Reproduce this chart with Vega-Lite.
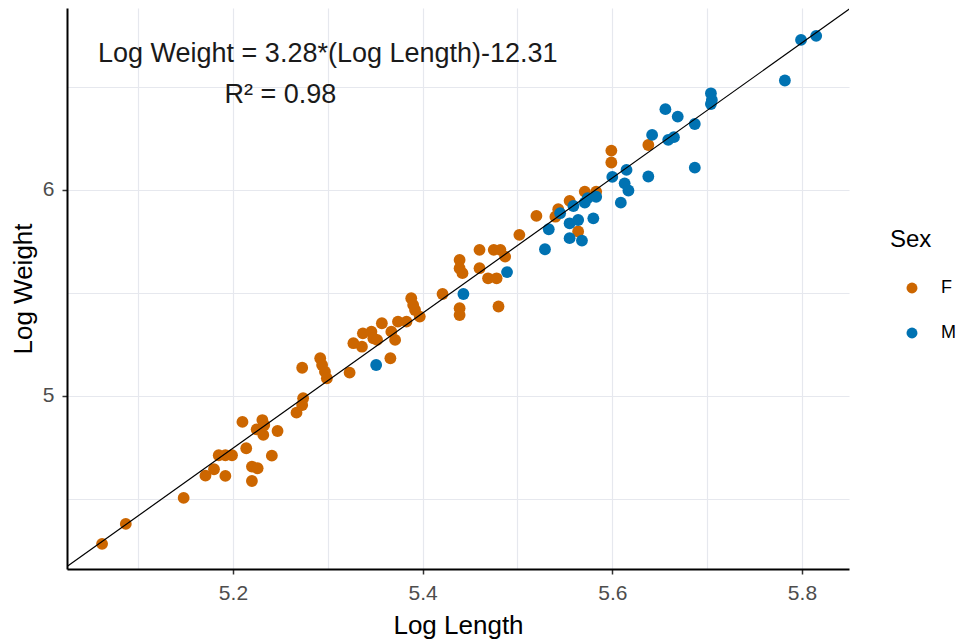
{
  "$schema": "https://vega.github.io/schema/vega-lite/v6.json",
  "width": 782,
  "height": 561,
  "autosize": "none",
  "padding": {"left": 67, "top": 8, "right": 115, "bottom": 73},
  "background": "white",
  "config": {
    "view": {"stroke": null},
    "font": "Liberation Sans",
    "axis": {
      "domainColor": "#000000",
      "domainWidth": 2,
      "gridColor": "#E6E8EE",
      "gridWidth": 1.2,
      "tickColor": "#333333",
      "tickWidth": 1.5,
      "tickSize": 5,
      "labelColor": "#4D4D4D",
      "labelFont": "Liberation Sans",
      "labelFontSize": 21,
      "titleFont": "Liberation Sans",
      "titleFontSize": 26,
      "titleFontWeight": "normal",
      "titleColor": "#000000"
    }
  },
  "datasets": {
    "fish": [
      {"log_length": 5.062, "log_weight": 4.282, "Sex": "F"},
      {"log_length": 5.087, "log_weight": 4.379, "Sex": "F"},
      {"log_length": 5.148, "log_weight": 4.505, "Sex": "F"},
      {"log_length": 5.171, "log_weight": 4.613, "Sex": "F"},
      {"log_length": 5.180, "log_weight": 4.644, "Sex": "F"},
      {"log_length": 5.192, "log_weight": 4.612, "Sex": "F"},
      {"log_length": 5.185, "log_weight": 4.712, "Sex": "F"},
      {"log_length": 5.192, "log_weight": 4.712, "Sex": "F"},
      {"log_length": 5.199, "log_weight": 4.712, "Sex": "F"},
      {"log_length": 5.214, "log_weight": 4.746, "Sex": "F"},
      {"log_length": 5.210, "log_weight": 4.874, "Sex": "F"},
      {"log_length": 5.220, "log_weight": 4.657, "Sex": "F"},
      {"log_length": 5.226, "log_weight": 4.649, "Sex": "F"},
      {"log_length": 5.220, "log_weight": 4.587, "Sex": "F"},
      {"log_length": 5.241, "log_weight": 4.710, "Sex": "F"},
      {"log_length": 5.231, "log_weight": 4.883, "Sex": "F"},
      {"log_length": 5.225, "log_weight": 4.838, "Sex": "F"},
      {"log_length": 5.232, "log_weight": 4.811, "Sex": "F"},
      {"log_length": 5.233, "log_weight": 4.859, "Sex": "F"},
      {"log_length": 5.247, "log_weight": 4.830, "Sex": "F"},
      {"log_length": 5.274, "log_weight": 4.989, "Sex": "F"},
      {"log_length": 5.273, "log_weight": 4.956, "Sex": "F"},
      {"log_length": 5.267, "log_weight": 4.919, "Sex": "F"},
      {"log_length": 5.273, "log_weight": 5.137, "Sex": "F"},
      {"log_length": 5.292, "log_weight": 5.183, "Sex": "F"},
      {"log_length": 5.294, "log_weight": 5.150, "Sex": "F"},
      {"log_length": 5.297, "log_weight": 5.118, "Sex": "F"},
      {"log_length": 5.299, "log_weight": 5.086, "Sex": "F"},
      {"log_length": 5.323, "log_weight": 5.113, "Sex": "F"},
      {"log_length": 5.327, "log_weight": 5.256, "Sex": "F"},
      {"log_length": 5.336, "log_weight": 5.239, "Sex": "F"},
      {"log_length": 5.337, "log_weight": 5.304, "Sex": "F"},
      {"log_length": 5.346, "log_weight": 5.312, "Sex": "F"},
      {"log_length": 5.348, "log_weight": 5.280, "Sex": "F"},
      {"log_length": 5.352, "log_weight": 5.272, "Sex": "F"},
      {"log_length": 5.357, "log_weight": 5.353, "Sex": "F"},
      {"log_length": 5.366, "log_weight": 5.183, "Sex": "F"},
      {"log_length": 5.367, "log_weight": 5.312, "Sex": "F"},
      {"log_length": 5.371, "log_weight": 5.272, "Sex": "F"},
      {"log_length": 5.374, "log_weight": 5.361, "Sex": "F"},
      {"log_length": 5.383, "log_weight": 5.361, "Sex": "F"},
      {"log_length": 5.388, "log_weight": 5.474, "Sex": "F"},
      {"log_length": 5.390, "log_weight": 5.442, "Sex": "F"},
      {"log_length": 5.392, "log_weight": 5.417, "Sex": "F"},
      {"log_length": 5.397, "log_weight": 5.385, "Sex": "F"},
      {"log_length": 5.421, "log_weight": 5.495, "Sex": "F"},
      {"log_length": 5.439, "log_weight": 5.660, "Sex": "F"},
      {"log_length": 5.439, "log_weight": 5.620, "Sex": "F"},
      {"log_length": 5.442, "log_weight": 5.596, "Sex": "F"},
      {"log_length": 5.439, "log_weight": 5.426, "Sex": "F"},
      {"log_length": 5.439, "log_weight": 5.393, "Sex": "F"},
      {"log_length": 5.460, "log_weight": 5.709, "Sex": "F"},
      {"log_length": 5.460, "log_weight": 5.620, "Sex": "F"},
      {"log_length": 5.469, "log_weight": 5.571, "Sex": "F"},
      {"log_length": 5.478, "log_weight": 5.571, "Sex": "F"},
      {"log_length": 5.475, "log_weight": 5.709, "Sex": "F"},
      {"log_length": 5.482, "log_weight": 5.709, "Sex": "F"},
      {"log_length": 5.487, "log_weight": 5.676, "Sex": "F"},
      {"log_length": 5.480, "log_weight": 5.434, "Sex": "F"},
      {"log_length": 5.502, "log_weight": 5.782, "Sex": "F"},
      {"log_length": 5.520, "log_weight": 5.874, "Sex": "F"},
      {"log_length": 5.543, "log_weight": 5.906, "Sex": "F"},
      {"log_length": 5.540, "log_weight": 5.870, "Sex": "F"},
      {"log_length": 5.555, "log_weight": 5.947, "Sex": "F"},
      {"log_length": 5.571, "log_weight": 5.992, "Sex": "F"},
      {"log_length": 5.583, "log_weight": 5.992, "Sex": "F"},
      {"log_length": 5.564, "log_weight": 5.798, "Sex": "F"},
      {"log_length": 5.599, "log_weight": 6.191, "Sex": "F"},
      {"log_length": 5.599, "log_weight": 6.133, "Sex": "F"},
      {"log_length": 5.638, "log_weight": 6.218, "Sex": "F"},
      {"log_length": 5.351, "log_weight": 5.150, "Sex": "M"},
      {"log_length": 5.443, "log_weight": 5.495, "Sex": "M"},
      {"log_length": 5.489, "log_weight": 5.601, "Sex": "M"},
      {"log_length": 5.533, "log_weight": 5.809, "Sex": "M"},
      {"log_length": 5.529, "log_weight": 5.712, "Sex": "M"},
      {"log_length": 5.545, "log_weight": 5.887, "Sex": "M"},
      {"log_length": 5.559, "log_weight": 5.922, "Sex": "M"},
      {"log_length": 5.571, "log_weight": 5.938, "Sex": "M"},
      {"log_length": 5.574, "log_weight": 5.960, "Sex": "M"},
      {"log_length": 5.583, "log_weight": 5.967, "Sex": "M"},
      {"log_length": 5.555, "log_weight": 5.838, "Sex": "M"},
      {"log_length": 5.564, "log_weight": 5.854, "Sex": "M"},
      {"log_length": 5.580, "log_weight": 5.862, "Sex": "M"},
      {"log_length": 5.555, "log_weight": 5.766, "Sex": "M"},
      {"log_length": 5.568, "log_weight": 5.754, "Sex": "M"},
      {"log_length": 5.600, "log_weight": 6.063, "Sex": "M"},
      {"log_length": 5.615, "log_weight": 6.097, "Sex": "M"},
      {"log_length": 5.613, "log_weight": 6.032, "Sex": "M"},
      {"log_length": 5.617, "log_weight": 5.997, "Sex": "M"},
      {"log_length": 5.609, "log_weight": 5.938, "Sex": "M"},
      {"log_length": 5.638, "log_weight": 6.065, "Sex": "M"},
      {"log_length": 5.642, "log_weight": 6.267, "Sex": "M"},
      {"log_length": 5.656, "log_weight": 6.392, "Sex": "M"},
      {"log_length": 5.669, "log_weight": 6.356, "Sex": "M"},
      {"log_length": 5.659, "log_weight": 6.243, "Sex": "M"},
      {"log_length": 5.665, "log_weight": 6.256, "Sex": "M"},
      {"log_length": 5.687, "log_weight": 6.320, "Sex": "M"},
      {"log_length": 5.687, "log_weight": 6.108, "Sex": "M"},
      {"log_length": 5.704, "log_weight": 6.469, "Sex": "M"},
      {"log_length": 5.705, "log_weight": 6.437, "Sex": "M"},
      {"log_length": 5.704, "log_weight": 6.417, "Sex": "M"},
      {"log_length": 5.782, "log_weight": 6.531, "Sex": "M"},
      {"log_length": 5.799, "log_weight": 6.728, "Sex": "M"},
      {"log_length": 5.815, "log_weight": 6.748, "Sex": "M"}
    ],
    "fit": [
      {"log_length": 5.025, "log_weight": 4.172},
      {"log_length": 5.85, "log_weight": 6.878}
    ],
    "notes": [
      {"log_length": 5.30, "log_weight": 6.62, "label": "Log Weight = 3.28*(Log Length)-12.31"},
      {"log_length": 5.25, "log_weight": 6.42, "label": "R² = 0.98"}
    ]
  },
  "layer": [
    {
      "data": {"name": "fish"},
      "mark": {"type": "circle", "size": 140, "opacity": 1},
      "encoding": {
        "x": {
          "field": "log_length",
          "type": "quantitative",
          "scale": {"domain": [5.025, 5.8496], "zero": false, "nice": false},
          "axis": {
            "title": "Log Length",
            "values": [5.1, 5.2, 5.3, 5.4, 5.5, 5.6, 5.7, 5.8],
            "labelExpr": "round(datum.value * 10) % 2 == 0 ? format(datum.value, '.1f') : ''",
            "tickOpacity": {"condition": {"test": "round(datum.value * 10) % 2 == 0", "value": 1}, "value": 0},
            "labelPadding": 8,
            "titlePadding": 9
          }
        },
        "y": {
          "field": "log_weight",
          "type": "quantitative",
          "scale": {"domain": [4.16, 6.883], "zero": false, "nice": false},
          "axis": {
            "title": "Log Weight",
            "values": [4.5, 5, 5.5, 6, 6.5],
            "labelExpr": "round(datum.value * 2) % 2 == 0 ? format(datum.value, 'd') : ''",
            "tickOpacity": {"condition": {"test": "round(datum.value * 2) % 2 == 0", "value": 1}, "value": 0},
            "labelPadding": 8,
            "titlePadding": 6
          }
        },
        "color": {
          "field": "Sex",
          "type": "nominal",
          "scale": {"domain": ["F", "M"], "range": ["#CC6600", "#0072B2"]},
          "legend": {
            "title": "Sex",
            "orient": "none",
            "legendX": 823,
            "legendY": 220,
            "padding": 0,
            "titleFontSize": 24,
            "titleFontWeight": "normal",
            "titleColor": "#000000",
            "titlePadding": 26,
            "labelFontSize": 18,
            "labelColor": "#000000",
            "labelOffset": 20,
            "symbolOffset": 13,
            "symbolType": "circle",
            "symbolSize": 120,
            "rowPadding": 25,
            "clipHeight": 20
          }
        }
      }
    },
    {
      "data": {"name": "fit"},
      "mark": {"type": "line", "color": "#000000", "strokeWidth": 1.2, "clip": true},
      "encoding": {
        "x": {"field": "log_length", "type": "quantitative"},
        "y": {"field": "log_weight", "type": "quantitative"}
      }
    },
    {
      "data": {"name": "notes"},
      "mark": {"type": "text", "fontSize": 27, "align": "center", "baseline": "alphabetic", "color": "#1A1A1A", "font": "Liberation Sans"},
      "encoding": {
        "x": {"field": "log_length", "type": "quantitative"},
        "y": {"field": "log_weight", "type": "quantitative"},
        "text": {"field": "label"}
      }
    }
  ]
}
